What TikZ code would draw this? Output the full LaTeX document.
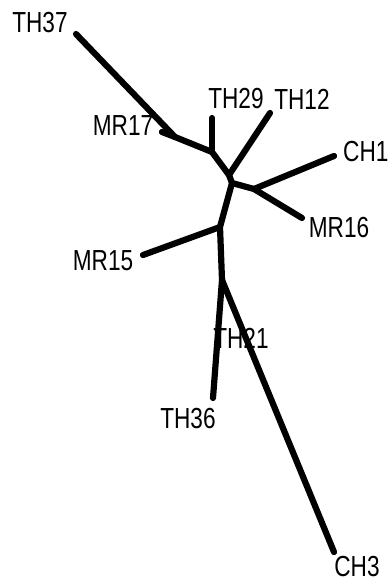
\documentclass[tikz,border=0pt]{standalone}
\usepackage{fontspec}
\setmainfont{Liberation Sans}[FakeStretch=0.78]
\begin{document}
\begin{tikzpicture}[x=1pt,y=-1pt,
  branch/.style={line width=6.2pt,line cap=round,line join=round},
  leaflabel/.style={inner sep=0pt,font=\fontsize{29}{29}\selectfont}]
\useasboundingbox (0,0) rectangle (389,586);
% internal vertices
\coordinate (A) at (175,137);
\coordinate (B) at (212,152);
\coordinate (C) at (229,175);
\coordinate (D) at (232,183);
\coordinate (E) at (254,189);
\coordinate (F) at (220,227);
\coordinate (G) at (222,280);
% leaf tips
\coordinate (tTH37) at (76,34);
\coordinate (tMR17) at (162,132);
\coordinate (tTH29) at (212,118);
\coordinate (tTH12) at (270,113);
\coordinate (tCH1) at (334,156);
\coordinate (tMR16) at (302,218);
\coordinate (tMR15) at (143,255);
\coordinate (tTH36) at (213,398);
\coordinate (tCH3) at (334,552);
% branches
\draw[branch] (tTH37) -- (A);
\draw[branch] (tMR17) -- (A);
\draw[branch] (A) -- (B) -- (C) -- (D) -- (E);
\draw[branch] (B) -- (tTH29);
\draw[branch] (C) -- (tTH12);
\draw[branch] (E) -- (tCH1);
\draw[branch] (E) -- (tMR16);
\draw[branch] (D) -- (F) -- (G);
\draw[branch] (F) -- (tMR15);
\draw[branch] (G) -- (tTH36);
\draw[branch] (G) -- (tCH3);
% labels
\node[leaflabel] (lTH37) at (40,23) {TH37};
\node[leaflabel] (lMR17) at (123,126) {MR17};
\node[leaflabel] (lTH29) at (236,99) {TH29};
\node[leaflabel] (lTH12) at (302,99) {TH12};
\node[leaflabel,anchor=west] (lCH1) at (343,152) {CH1};
\node[leaflabel] (lMR16) at (339,228) {MR16};
\node[leaflabel] (lMR15) at (103,261) {MR15};
\node[leaflabel] (lTH21) at (241,338) {TH21};
\node[leaflabel] (lTH36) at (188,419) {TH36};
\node[leaflabel] (lCH3) at (357,567) {CH3};
\end{tikzpicture}
\end{document}
